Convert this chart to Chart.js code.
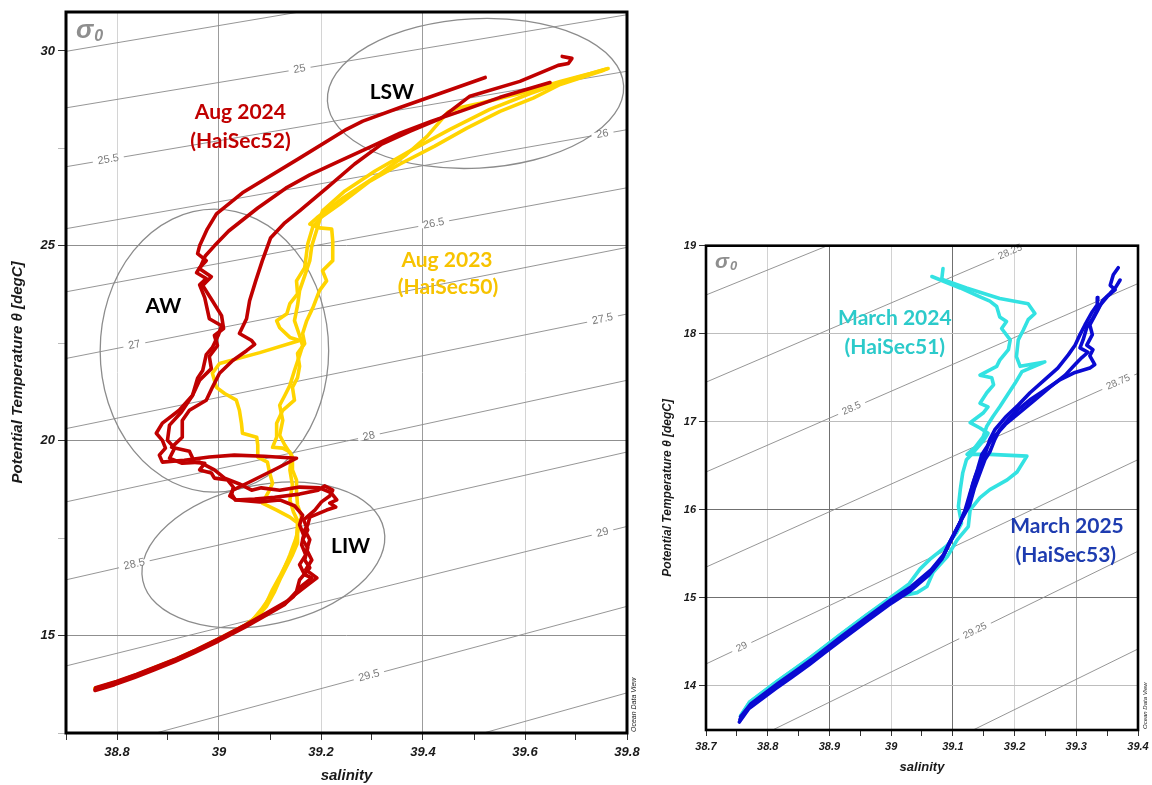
<!DOCTYPE html>
<html><head><meta charset="utf-8">
<script src="https://cdn.jsdelivr.net/npm/chart.js@4.4.1/dist/chart.umd.min.js"></script>
<style>
html,body{margin:0;padding:0;background:#fff;width:1152px;height:785px;overflow:hidden}
#leftChart{position:absolute;left:0;top:0}
#rightChart{position:absolute;left:650px;top:230px}
</style>
</head><body>
<canvas id="leftChart" width="640" height="785"></canvas>
<canvas id="rightChart" width="502" height="555"></canvas>
<script>
// ===== DATA: [salinity, potential temperature] =====
// Aug 2024 (HaiSec52) profiles
const aug2024_a = [[39.522,29.32],[39.433,28.91],[39.355,28.55],[39.282,28.20],[39.250,27.99],[39.158,27.25],[39.046,26.36],[38.995,25.82],[38.977,25.43],[38.962,25.00],[38.958,24.80],[38.975,24.62],[38.962,24.44],[38.956,24.31],[38.975,24.16],[38.962,24.00],[38.972,23.67],[38.981,23.13],[39.005,22.95],[38.999,22.72],[38.987,22.39],[38.975,22.21],[38.968,21.80],[38.958,21.60],[38.948,21.16],[38.922,20.78],[38.889,20.45],[38.877,20.19],[38.889,20.01],[38.895,19.81],[38.883,19.63],[38.889,19.45],[38.932,19.50],[38.981,19.58],[39.030,19.63],[39.089,19.60],[39.152,19.55],[39.115,19.30],[39.060,18.94],[39.027,18.73],[39.021,18.58],[39.034,18.48],[39.080,18.43],[39.119,18.48],[39.148,18.33],[39.164,18.09],[39.158,17.84],[39.166,17.58],[39.162,17.33],[39.170,17.07],[39.158,16.82],[39.168,16.56],[39.182,16.48],[39.158,16.23],[39.146,16.00],[39.131,15.84],[39.091,15.54],[39.052,15.25],[39.001,14.90],[38.954,14.60],[38.915,14.37],[38.875,14.16],[38.836,13.96],[38.797,13.78],[38.757,13.62]];
const aug2024_b = [[39.649,29.19],[39.551,28.81],[39.473,28.45],[39.417,28.20],[39.355,27.89],[39.296,27.53],[39.235,27.17],[39.178,26.82],[39.131,26.48],[39.076,25.97],[39.019,25.38],[38.991,25.00],[38.973,24.74],[38.962,24.41],[38.985,24.21],[38.968,23.98],[38.987,23.59],[39.005,23.21],[39.009,22.88],[38.991,22.70],[38.997,22.44],[38.981,22.16],[38.985,21.85],[38.962,21.55],[38.948,21.16],[38.926,20.73],[38.903,20.40],[38.899,20.01],[38.913,19.81],[38.903,19.55],[38.928,19.42],[38.962,19.45],[38.991,19.25],[39.011,19.04],[39.040,18.89],[39.064,18.73],[39.083,18.79],[39.119,18.73],[39.158,18.81],[39.197,18.79],[39.217,18.68],[39.223,18.61],[39.231,18.48],[39.217,18.40],[39.229,18.30],[39.211,18.22],[39.178,18.04],[39.174,17.84],[39.168,17.71],[39.178,17.46],[39.172,17.20],[39.182,16.94],[39.170,16.69],[39.192,16.48],[39.174,16.30],[39.148,16.04],[39.133,15.88],[39.093,15.58],[39.054,15.29],[39.003,14.94],[38.956,14.64],[38.917,14.41],[38.877,14.20],[38.838,14.00],[38.799,13.82],[38.758,13.66]];
const aug2024_c = [[39.673,29.86],[39.692,29.81],[39.685,29.68],[39.665,29.63],[39.590,29.22],[39.492,28.84],[39.435,28.27],[39.374,27.94],[39.319,27.61],[39.266,27.10],[39.211,26.48],[39.158,25.90],[39.129,25.59],[39.101,25.20],[39.085,24.62],[39.072,24.10],[39.060,23.59],[39.054,23.13],[39.040,22.75],[39.064,22.57],[39.070,22.47],[39.054,22.31],[39.027,22.06],[39.001,21.73],[38.987,21.37],[38.975,21.04],[38.942,20.78],[38.928,20.52],[38.928,20.09],[38.907,19.83],[38.942,19.73],[38.952,19.45],[38.972,19.42],[38.962,19.25],[38.985,19.17],[38.991,19.04],[39.017,18.99],[39.028,18.81],[39.025,18.63],[39.032,18.48],[39.070,18.50],[39.109,18.55],[39.158,18.63],[39.194,18.73],[39.207,18.84],[39.223,18.73],[39.217,18.58],[39.201,18.43],[39.188,18.22],[39.166,17.97],[39.174,17.71],[39.164,17.46],[39.174,17.25],[39.168,16.94],[39.178,16.74],[39.158,16.43],[39.152,16.13],[39.129,15.80],[39.089,15.50],[39.050,15.21],[38.999,14.86],[38.952,14.56],[38.913,14.33],[38.873,14.12],[38.834,13.92],[38.795,13.74],[38.757,13.59]];
// Aug 2023 (HaiSec50) profiles
const aug2023_a = [[39.763,29.55],[39.728,29.42],[39.669,29.22],[39.590,28.91],[39.512,28.66],[39.467,28.53],[39.449,28.43],[39.408,27.81],[39.368,27.35],[39.315,26.84],[39.243,26.23],[39.192,25.72],[39.178,25.56],[39.197,25.46],[39.221,25.43],[39.223,25.13],[39.223,24.62],[39.203,24.36],[39.211,24.10],[39.197,23.85],[39.184,23.41],[39.172,23.08],[39.164,22.75],[39.168,22.49],[39.154,22.24],[39.158,21.91],[39.154,21.62],[39.144,21.37],[39.148,21.04],[39.125,20.78],[39.113,20.45],[39.113,20.09],[39.105,19.83],[39.125,19.81],[39.139,19.71],[39.144,19.58],[39.144,19.25],[39.152,18.99],[39.152,18.68],[39.154,18.35],[39.162,18.04],[39.154,17.71],[39.154,17.38],[39.144,17.07],[39.133,16.79],[39.121,16.48],[39.109,16.13],[39.093,15.75],[39.080,15.55],[39.052,15.27],[39.001,14.92],[38.954,14.62],[38.915,14.39],[38.875,14.18],[38.836,13.98],[38.797,13.80],[38.757,13.64]];
const aug2023_b = [[39.753,29.50],[39.669,29.14],[39.616,28.79],[39.551,28.45],[39.486,28.02],[39.423,27.56],[39.355,27.10],[39.296,26.66],[39.237,26.07],[39.201,25.74],[39.184,25.49],[39.174,25.05],[39.168,24.44],[39.152,24.10],[39.154,23.77],[39.139,23.52],[39.133,23.26],[39.113,23.08],[39.119,22.90],[39.139,22.65],[39.158,22.57],[39.080,22.26],[39.001,21.98],[38.987,21.73],[38.995,21.37],[39.011,21.21],[39.034,21.04],[39.040,20.78],[39.044,20.45],[39.046,20.19],[39.074,20.09],[39.076,19.89],[39.076,19.58],[39.095,19.45],[39.099,19.19],[39.105,18.91],[39.099,18.73],[39.085,18.40],[39.113,18.22],[39.139,18.04],[39.154,17.89],[39.152,17.46],[39.144,17.12],[39.133,16.87],[39.119,16.51],[39.105,16.18],[39.093,15.84],[39.082,15.58],[39.053,15.27],[39.001,14.92],[38.954,14.62],[38.915,14.39],[38.875,14.18],[38.836,13.98],[38.797,13.80],[38.757,13.64]];
const aug2023_c = [[39.759,29.53],[39.689,29.27],[39.610,28.91],[39.531,28.50],[39.453,27.99],[39.374,27.43],[39.306,26.92],[39.247,26.41],[39.203,25.90],[39.194,25.51],[39.182,25.00],[39.178,24.62],[39.168,24.23],[39.158,23.85],[39.154,23.47],[39.148,23.08],[39.158,22.70],[39.164,22.44],[39.158,22.19],[39.148,21.80],[39.139,21.42],[39.129,21.16],[39.119,20.91],[39.125,20.52],[39.119,20.14],[39.129,19.89],[39.142,19.63],[39.139,19.25],[39.144,18.86],[39.139,18.48],[39.146,18.17],[39.158,17.84],[39.150,17.46],[39.139,17.07],[39.127,16.69],[39.113,16.30],[39.099,15.97],[39.083,15.67],[39.066,15.40],[39.052,15.27],[39.001,14.92],[38.954,14.62],[38.915,14.39],[38.875,14.18],[38.836,13.98],[38.797,13.80],[38.757,13.64]];
// March 2024 (HaiSec51) profiles
const mar2024_a = [[39.084,18.74],[39.082,18.62],[39.122,18.52],[39.176,18.40],[39.222,18.34],[39.233,18.23],[39.222,18.16],[39.214,18.04],[39.206,17.93],[39.203,17.74],[39.209,17.63],[39.249,17.68],[39.212,17.57],[39.201,17.44],[39.176,17.17],[39.165,17.06],[39.155,16.95],[39.149,16.83],[39.136,16.71],[39.123,16.63],[39.160,16.63],[39.220,16.61],[39.204,16.43],[39.188,16.34],[39.160,16.23],[39.144,16.14],[39.128,16.00],[39.125,15.81],[39.107,15.66],[39.091,15.47],[39.068,15.29],[39.058,15.13],[39.042,15.06],[39.000,15.00],[38.961,14.81],[38.917,14.58],[38.893,14.45],[38.869,14.32],[38.841,14.18],[38.815,14.05],[38.771,13.82],[38.756,13.66]];
const mar2024_b = [[39.066,18.65],[39.112,18.52],[39.144,18.42],[39.160,18.37],[39.171,18.31],[39.176,18.19],[39.187,18.14],[39.179,18.06],[39.193,17.93],[39.190,17.82],[39.176,17.70],[39.171,17.63],[39.144,17.53],[39.163,17.50],[39.166,17.42],[39.155,17.33],[39.144,17.21],[39.157,17.17],[39.149,17.10],[39.128,16.99],[39.144,16.93],[39.157,16.87],[39.149,16.78],[39.133,16.65],[39.122,16.57],[39.116,16.42],[39.112,16.23],[39.109,16.04],[39.114,15.85],[39.106,15.74],[39.090,15.59],[39.063,15.44],[39.047,15.33],[39.029,15.16],[38.998,15.00],[38.961,14.81],[38.917,14.58],[38.869,14.32],[38.815,14.05],[38.771,13.82],[38.756,13.66]];
// March 2025 (HaiSec53) profiles
const mar2025_a = [[39.368,18.75],[39.360,18.67],[39.355,18.55],[39.363,18.50],[39.350,18.42],[39.338,18.32],[39.327,18.18],[39.317,18.07],[39.311,17.93],[39.306,17.84],[39.319,17.79],[39.309,17.73],[39.298,17.65],[39.282,17.53],[39.257,17.39],[39.233,17.25],[39.209,17.11],[39.185,16.97],[39.163,16.80],[39.147,16.63],[39.140,16.46],[39.132,16.29],[39.125,16.07],[39.112,15.86],[39.095,15.63],[39.084,15.47],[39.063,15.29],[39.031,15.10],[38.998,14.95],[38.961,14.76],[38.917,14.53],[38.893,14.40],[38.869,14.27],[38.841,14.13],[38.815,14.00],[38.771,13.77],[38.755,13.62]];
const mar2025_b = [[39.371,18.61],[39.364,18.53],[39.355,18.46],[39.343,18.38],[39.335,18.27],[39.322,18.10],[39.326,17.99],[39.317,17.87],[39.327,17.82],[39.322,17.75],[39.330,17.65],[39.322,17.61],[39.298,17.56],[39.274,17.48],[39.249,17.36],[39.225,17.25],[39.206,17.14],[39.189,17.02],[39.176,16.91],[39.168,16.80],[39.160,16.66],[39.152,16.57],[39.144,16.42],[39.135,16.25],[39.127,16.05],[39.114,15.89],[39.097,15.66],[39.086,15.50],[39.065,15.32],[39.033,15.13],[39.000,14.98],[38.963,14.79],[38.919,14.56],[38.895,14.43],[38.871,14.30],[38.843,14.16],[38.817,14.03],[38.773,13.80],[38.756,13.65]];
const mar2025_c = [[39.335,18.41],[39.334,18.33],[39.326,18.25],[39.314,18.10],[39.306,17.99],[39.298,17.87],[39.287,17.76],[39.270,17.61],[39.249,17.48],[39.225,17.33],[39.206,17.19],[39.185,17.05],[39.168,16.91],[39.160,16.80],[39.152,16.63],[39.144,16.51],[39.136,16.37],[39.127,16.17],[39.120,16.00],[39.110,15.83],[39.093,15.60],[39.082,15.44],[39.061,15.26],[39.029,15.07],[38.996,14.92],[38.959,14.73],[38.915,14.50],[38.891,14.37],[38.867,14.24],[38.839,14.10],[38.813,13.97],[38.769,13.74],[38.754,13.59]];

// Isopycnals (sigma-0): temperature where each crosses the salinity edges
const sigmaLeftLabels   = ['', '25', '25.5', '26', '26.5', '27', '27.5', '28', '28.5', '29', '29.5', ''];
const sigmaLeftT_S387   = [29.99, 28.54, 27.03, 25.44, 23.82, 22.11, 20.31, 18.43, 16.43, 14.22, 11.88, 9.50];
const sigmaLeftT_S398   = [32.42, 30.93, 29.48, 27.98, 26.49, 24.96, 23.25, 21.55, 19.71, 17.80, 15.75, 13.53];
const sigmaLeftLabelSal = [null, 39.158, 38.783, 39.752, 39.421, 38.834, 39.752, 39.294, 38.834, 39.752, 39.294, null];
const sigmaRightLabels   = ['', '28.25', '28.5', '28.75', '29', '29.25', ''];
const sigmaRightT_S387   = [18.44, 17.45, 16.43, 15.35, 14.25, 13.13, 12.01];
const sigmaRightT_S394   = [20.43, 19.55, 18.57, 17.55, 16.57, 15.53, 14.42];
const sigmaRightLabelSal = [null, 39.193, 38.936, 39.368, 38.758, 39.136, null];

// Axis tick labels
const leftSalTicks  = ['38.8', '39', '39.2', '39.4', '39.6', '39.8'];
const leftTempTicks = ['15', '20', '25', '30'];
const rightSalTicks  = ['38.7', '38.8', '38.9', '39', '39.1', '39.2', '39.3', '39.4'];
const rightTempTicks = ['14', '15', '16', '17', '18', '19'];

// Annotations (water masses and cruise names) in data coordinates
const leftNotes = [
  {text: 'Aug 2024', s: 39.042, t: 28.43, color: '#C00000'},
  {text: '(HaiSec52)', s: 39.042, t: 27.69, color: '#C00000'},
  {text: 'Aug 2023', s: 39.447, t: 24.62, color: '#F7C300'},
  {text: '(HaiSec50)', s: 39.449, t: 23.93, color: '#F7C300'},
  {text: 'LSW', s: 39.339, t: 28.94, color: '#000'},
  {text: 'AW', s: 38.891, t: 23.44, color: '#000'},
  {text: 'LIW', s: 39.258, t: 17.30, color: '#000'}
];
const rightNotes = [
  {text: 'March 2024', s: 39.006, t: 18.18, color: '#2CCACA'},
  {text: '(HaiSec51)', s: 39.006, t: 17.85, color: '#2CCACA'},
  {text: 'March 2025', s: 39.285, t: 15.81, color: '#1E3CB0'},
  {text: '(HaiSec53)', s: 39.283, t: 15.48, color: '#1E3CB0'}
];
const waterMassEllipses = [
  {s: 39.503, t: 28.91, ds: 0.2908, dt: 1.918, rot: -3},
  {s: 38.991, t: 22.31, ds: 0.224, dt: 3.63, rot: 0},
  {s: 39.087, t: 17.07, ds: 0.2417, dt: 1.79, rot: -12}
];

// ===== RENDERING =====
const TICKFONT = '"Liberation Sans", Arial, sans-serif';
const pts = arr => arr.map(p => ({x: p[0], y: p[1]}));
const fmt = v => String(Number(v.toFixed(2)));

function profile(arr, color, order) {
  return {data: pts(arr), borderColor: color, backgroundColor: color, borderWidth: 3.6,
    showLine: true, pointRadius: 0, pointHoverRadius: 0, borderJoinStyle: 'round', borderCapStyle: 'round',
    tension: 0, order: order};
}
function isopycnals(tA, tB, sA, sB, labels, labelSal) {
  return tA.map((t, i) => ({data: [{x: sA, y: t}, {x: sB, y: tB[i]}], borderColor: '#8a8a8a',
    borderWidth: 0.9, showLine: true, pointRadius: 0, tension: 0, clip: 0, order: 20,
    isoLabel: labels[i], isoSal: labelSal[i]}));
}

function overlayPlugin(opts) {
  return {
    id: 'overlay',
    beforeDatasetsDraw(chart) {
      const {ctx, scales: {x, y}} = chart;
      (opts.ellipses || []).forEach(e => {
        const cx = x.getPixelForValue(e.s), cy = y.getPixelForValue(e.t);
        const rx = Math.abs(x.getPixelForValue(e.s + e.ds) - cx);
        const ry = Math.abs(y.getPixelForValue(e.t + e.dt) - cy);
        ctx.save();
        ctx.beginPath();
        ctx.ellipse(cx, cy, rx, ry, e.rot * Math.PI / 180, 0, Math.PI * 2);
        ctx.strokeStyle = '#8c8c8c'; ctx.lineWidth = 1.3; ctx.stroke();
        ctx.restore();
      });
    },
    afterDatasetDraw(chart, args) {
      const ds = chart.data.datasets[args.index];
      if (!ds.isoLabel) return;
      const {ctx, scales: {x, y}} = chart;
      const p0 = ds.data[0], p1 = ds.data[1];
      const x0 = x.getPixelForValue(p0.x), y0 = y.getPixelForValue(p0.y);
      const x1 = x.getPixelForValue(p1.x), y1 = y.getPixelForValue(p1.y);
      const s = ds.isoSal;
      const t = p0.y + (p1.y - p0.y) * (s - p0.x) / (p1.x - p0.x);
      const px = x.getPixelForValue(s), py = y.getPixelForValue(t);
      const ang = Math.atan2(y1 - y0, x1 - x0);
      ctx.save();
      ctx.translate(px, py); ctx.rotate(ang);
      ctx.font = opts.isoFont;
      const w = ctx.measureText(ds.isoLabel).width;
      ctx.fillStyle = '#fff';
      ctx.fillRect(-w / 2 - 5, -2.5, w + 10, 5);
      ctx.fillStyle = '#7a7a7a'; ctx.textAlign = 'center'; ctx.textBaseline = 'middle';
      ctx.fillText(ds.isoLabel, 0, 0);
      ctx.restore();
    },
    afterDatasetsDraw(chart) {
      const {ctx, chartArea: ca, scales: {x, y}} = chart;
      ctx.save();
      ctx.strokeStyle = '#000'; ctx.lineWidth = opts.frameWidth;
      ctx.strokeRect(ca.left, ca.top, ca.right - ca.left, ca.bottom - ca.top);
      ctx.fillStyle = '#8e8e8e'; ctx.textAlign = 'left'; ctx.textBaseline = 'alphabetic';
      ctx.font = 'italic bold ' + opts.sigmaSize + 'px ' + TICKFONT;
      const sx = ca.left + opts.sigmaDx, sy = ca.top + opts.sigmaDy;
      ctx.fillText('σ', sx, sy);
      const sw = ctx.measureText('σ').width;
      ctx.font = 'italic bold ' + Math.round(opts.sigmaSize * 0.6) + 'px ' + TICKFONT;
      ctx.fillText('0', sx + sw + 1, sy + opts.sigmaSize * 0.1);
      ctx.textAlign = 'center'; ctx.textBaseline = 'middle';
      ctx.font = 'bold ' + opts.noteSize + 'px Lato, "Open Sans", sans-serif';
      opts.notes.forEach(n => {
        ctx.fillStyle = n.color;
        ctx.fillText(n.text, x.getPixelForValue(n.s), y.getPixelForValue(n.t));
      });
      ctx.translate(ca.right + opts.odvDx, ca.bottom - 1);
      ctx.rotate(-Math.PI / 2);
      ctx.fillStyle = '#222'; ctx.textAlign = 'left'; ctx.textBaseline = 'middle';
      ctx.font = 'italic ' + opts.odvSize + 'px ' + TICKFONT;
      ctx.fillText('Ocean Data View', 0, 0);
      ctx.restore();
    }
  };
}

function tickFont(size) { return {family: TICKFONT, size: size, weight: 'bold', style: 'italic'}; }

// ---------- LEFT CHART ----------
const leftDatasets = [
  profile(aug2024_a, '#C00000', 1), profile(aug2024_b, '#C00000', 1), profile(aug2024_c, '#C00000', 1),
  profile(aug2023_a, '#FFD400', 2), profile(aug2023_b, '#FFD400', 2), profile(aug2023_c, '#FFD400', 2),
  ...isopycnals(sigmaLeftT_S387, sigmaLeftT_S398, 38.7, 39.8, sigmaLeftLabels, sigmaLeftLabelSal)
];
new Chart(document.getElementById('leftChart'), {
  type: 'scatter',
  data: {datasets: leftDatasets},
  options: {
    responsive: false, animation: false, devicePixelRatio: 1,
    layout: {padding: {left: 0, top: 12, right: 13, bottom: 0}},
    plugins: {legend: {display: false}, tooltip: {enabled: false}},
    scales: {
      x: {
        type: 'linear', min: 38.7, max: 39.8,
        afterFit: s => { s.height = 52; s.paddingLeft = 0; s.paddingRight = 0; },
        border: {display: false},
        grid: {
          color: c => { if (!c.tick) return 'rgba(0,0,0,0)'; const k = Math.round(c.tick.value * 10);
            if (k === 390 || k === 394) return '#9c9c9c'; if (k === 388 || k === 392 || k === 396) return '#d4d4d4'; return 'rgba(0,0,0,0)'; },
          tickColor: '#333', tickLength: 7, lineWidth: 1
        },
        ticks: {stepSize: 0.1, autoSkip: false, maxRotation: 0, minRotation: 0, includeBounds: false, padding: 5,
          color: '#1a1a1a', font: tickFont(13),
          callback: v => { const l = fmt(v); return leftSalTicks.includes(l) ? l : ''; }},
        title: {display: true, text: 'salinity', color: '#1a1a1a', font: tickFont(15), padding: {top: 0, bottom: 0}}
      },
      y: {
        type: 'linear', min: 12.5, max: 31,
        afterFit: s => { s.width = 66; s.paddingTop = 0; s.paddingBottom = 0; },
        border: {display: false},
        grid: {
          color: c => { if (!c.tick) return 'rgba(0,0,0,0)'; const k = Math.round(c.tick.value * 10);
            return (k === 150 || k === 200 || k === 250) ? '#8f8f8f' : 'rgba(0,0,0,0)'; },
          tickColor: c => (c.tick && leftTempTicks.includes(fmt(c.tick.value))) ? '#333' : '#bbbbbb',
          tickLength: 8, lineWidth: 1
        },
        ticks: {stepSize: 2.5, autoSkip: false, includeBounds: false, padding: 3, color: '#1a1a1a', font: tickFont(13),
          callback: v => { const l = fmt(v); return leftTempTicks.includes(l) ? l : ''; }},
        title: {display: true, text: 'Potential Temperature θ [degC]', color: '#1a1a1a', font: tickFont(15), padding: {top: 9, bottom: 0}}
      }
    }
  },
  plugins: [overlayPlugin({ellipses: waterMassEllipses, notes: leftNotes, isoFont: '11px ' + TICKFONT,
    frameWidth: 3, sigmaSize: 26, sigmaDx: 10, sigmaDy: 26, noteSize: 21, odvDx: 7, odvSize: 7})]
});

// ---------- RIGHT CHART ----------
const rightDatasets = [
  profile(mar2025_a, '#0A0AD2', 1), profile(mar2025_b, '#0A0AD2', 1), profile(mar2025_c, '#0A0AD2', 1),
  profile(mar2024_a, '#33E2E2', 2), profile(mar2024_b, '#33E2E2', 2),
  ...isopycnals(sigmaRightT_S387, sigmaRightT_S394, 38.7, 39.4, sigmaRightLabels, sigmaRightLabelSal)
];
new Chart(document.getElementById('rightChart'), {
  type: 'scatter',
  data: {datasets: rightDatasets},
  options: {
    responsive: false, animation: false, devicePixelRatio: 1,
    layout: {padding: {left: 0, top: 15.7, right: 14, bottom: 0}},
    plugins: {legend: {display: false}, tooltip: {enabled: false}},
    scales: {
      x: {
        type: 'linear', min: 38.7, max: 39.4,
        afterFit: s => { s.height = 55; s.paddingLeft = 0; s.paddingRight = 0; },
        border: {display: false},
        grid: {
          color: c => { if (!c.tick) return 'rgba(0,0,0,0)'; const k = Math.round(c.tick.value * 100);
            if (k === 3890 || k === 3910) return '#707070'; if (k === 3930) return '#a8a8a8';
            if (k === 3880 || k === 3900 || k === 3920) return '#d2d2d2'; return 'rgba(0,0,0,0)'; },
          tickColor: '#333', tickLength: 6, lineWidth: 1
        },
        ticks: {stepSize: 0.05, autoSkip: false, maxRotation: 0, minRotation: 0, includeBounds: false, padding: 4,
          color: '#1a1a1a', font: tickFont(11),
          callback: v => { const l = fmt(v); return rightSalTicks.includes(l) ? l : ''; }},
        title: {display: true, text: 'salinity', color: '#1a1a1a', font: tickFont(13), padding: {top: 0, bottom: 10}}
      },
      y: {
        type: 'linear', min: 13.5, max: 19,
        afterFit: s => { s.width = 56; s.paddingTop = 0; s.paddingBottom = 0; },
        border: {display: false},
        grid: {
          color: c => { if (!c.tick) return 'rgba(0,0,0,0)'; const k = Math.round(c.tick.value);
            if (k === 15 || k === 16) return '#707070'; if (k === 14 || k === 17 || k === 18) return '#bdbdbd'; return 'rgba(0,0,0,0)'; },
          tickColor: '#333', tickLength: 7, lineWidth: 1
        },
        ticks: {stepSize: 1, autoSkip: false, includeBounds: false, padding: 3, color: '#1a1a1a', font: tickFont(11),
          callback: v => { const l = fmt(v); return rightTempTicks.includes(l) ? l : ''; }},
        title: {display: true, text: 'Potential Temperature θ [degC]', color: '#1a1a1a', font: tickFont(12), padding: {top: 10, bottom: 0}}
      }
    }
  },
  plugins: [overlayPlugin({ellipses: [], notes: rightNotes, isoFont: '10px ' + TICKFONT,
    frameWidth: 2.6, sigmaSize: 21, sigmaDx: 9, sigmaDy: 22, noteSize: 21, odvDx: 7, odvSize: 6})]
});
</script>
</body></html>
